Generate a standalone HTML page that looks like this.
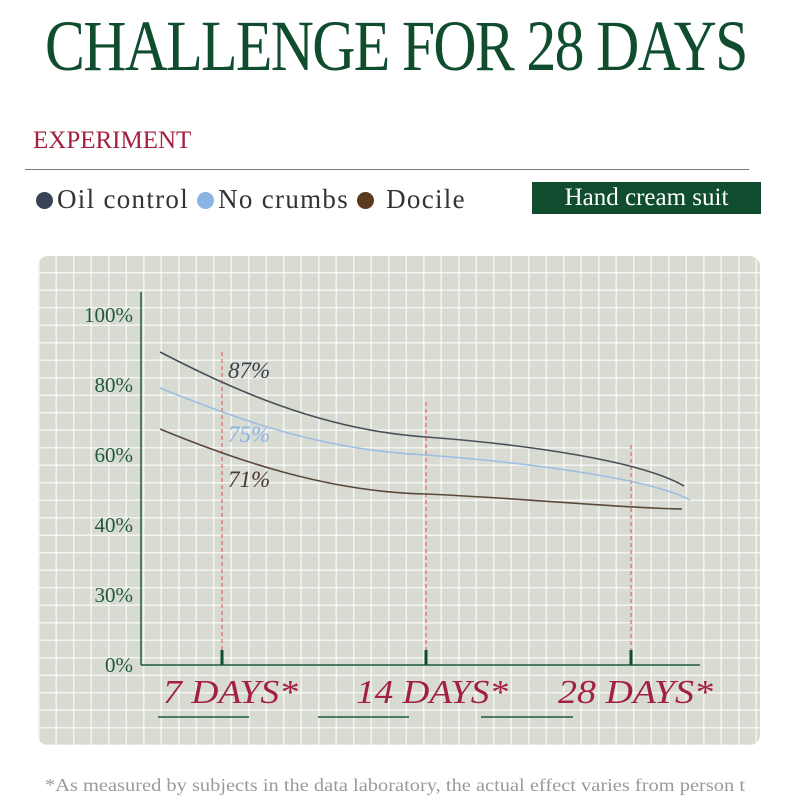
<!DOCTYPE html><html><head><style>
body{margin:0;width:800px;height:800px;background:#fff;position:relative;overflow:hidden;font-family:"Liberation Serif",serif}
.a{position:absolute;white-space:nowrap}
.d{display:inline-block;width:17px;height:17px;border-radius:50%;vertical-align:-1px;margin-right:4px}
</style></head><body>
<div class="a" style="left:45px;top:6px;font-size:72px;color:#0f4d2e;transform:scaleX(0.83);transform-origin:0 0;letter-spacing:-2px;line-height:80px">CHALLENGE FOR 28 DAYS</div>
<div class="a" style="left:33px;top:126px;font-size:25px;color:#a3203f;line-height:30px">EXPERIMENT</div>
<div class="a" style="left:25px;top:169px;width:724px;height:1px;background:#777"></div>
<div class="a" style="left:36px;top:183px;font-size:27px;color:#333;line-height:32px;letter-spacing:1.3px"><span class="d" style="background:#3a4258"></span>Oil control <span class="d" style="background:#8ab4e4"></span>No crumbs <span class="d" style="background:#5a3a1e"></span> Docile</div>
<div class="a" style="left:532px;top:182px;width:229px;height:32px;background:#0f4d2e;color:#fff;font-size:25px;line-height:32px;text-align:center">Hand cream suit</div>
<div class="a" style="left:38px;top:256px;width:722px;height:489px;border-radius:10px;background-color:#d8dbd1;background-image:linear-gradient(90deg,rgba(255,255,255,.7) 1.5px,transparent 1.5px),linear-gradient(0deg,rgba(255,255,255,.7) 1.5px,transparent 1.5px);background-size:17.5px 17.5px"></div>
<svg class="a" style="left:0;top:0" width="800" height="800">
<g stroke="#e0504a" stroke-width="1" stroke-dasharray="4,3">
<line x1="222" y1="352" x2="222" y2="650"/><line x1="426" y1="402" x2="426" y2="650"/><line x1="631" y1="445" x2="631" y2="650"/></g>
<g stroke="#1e5a3a" fill="none">
<line x1="141" y1="292" x2="141" y2="665" stroke-width="1.5"/><line x1="141" y1="665" x2="700" y2="665" stroke-width="1.5"/>
<g stroke-width="3" stroke="#0f4d2e"><line x1="222" y1="650" x2="222" y2="665"/><line x1="426" y1="650" x2="426" y2="665"/><line x1="631" y1="650" x2="631" y2="665"/></g>
<g stroke-width="1.5"><line x1="158" y1="717" x2="249" y2="717"/><line x1="318" y1="717" x2="409" y2="717"/><line x1="481" y1="717" x2="573" y2="717"/></g></g>
<g fill="none" stroke-width="1.6">
<path d="M160,352 C230,388 320,430 426,437 C520,444 640,460 684,486" stroke="#4a4f5a"/>
<path d="M160,388 C240,420 320,450 426,455 C520,462 650,478 690,500" stroke="#9dbde3"/>
<path d="M160,429 C240,462 330,492 426,494 C520,498 620,508 682,509" stroke="#5a4a3a"/>
</g>
<g font-family="Liberation Serif" font-style="italic" font-size="23">
<text x="228" y="378" fill="#3a3f4a">87%</text><text x="228" y="442" fill="#8ab4e4">75%</text><text x="228" y="487" fill="#4a3a2a">71%</text></g>
<g font-family="Liberation Serif" font-size="21" fill="#1e5a3a" text-anchor="end">
<text x="133" y="322">100%</text><text x="133" y="392">80%</text><text x="133" y="462">60%</text><text x="133" y="532">40%</text><text x="133" y="602">30%</text><text x="133" y="672">0%</text></g>
<g font-family="Liberation Serif" font-style="italic" font-size="34" fill="#a3203f">
<text x="163" y="703" textLength="135" lengthAdjust="spacingAndGlyphs">7 DAYS*</text><text x="356" y="703" textLength="152" lengthAdjust="spacingAndGlyphs">14 DAYS*</text><text x="558" y="703" textLength="155" lengthAdjust="spacingAndGlyphs">28 DAYS*</text></g>
<text x="45" y="791" font-family="Liberation Serif" font-size="18" fill="#9a9a9a" textLength="700" lengthAdjust="spacingAndGlyphs">*As measured by subjects in the data laboratory, the actual effect varies from person t</text>
</svg>
</body></html>
